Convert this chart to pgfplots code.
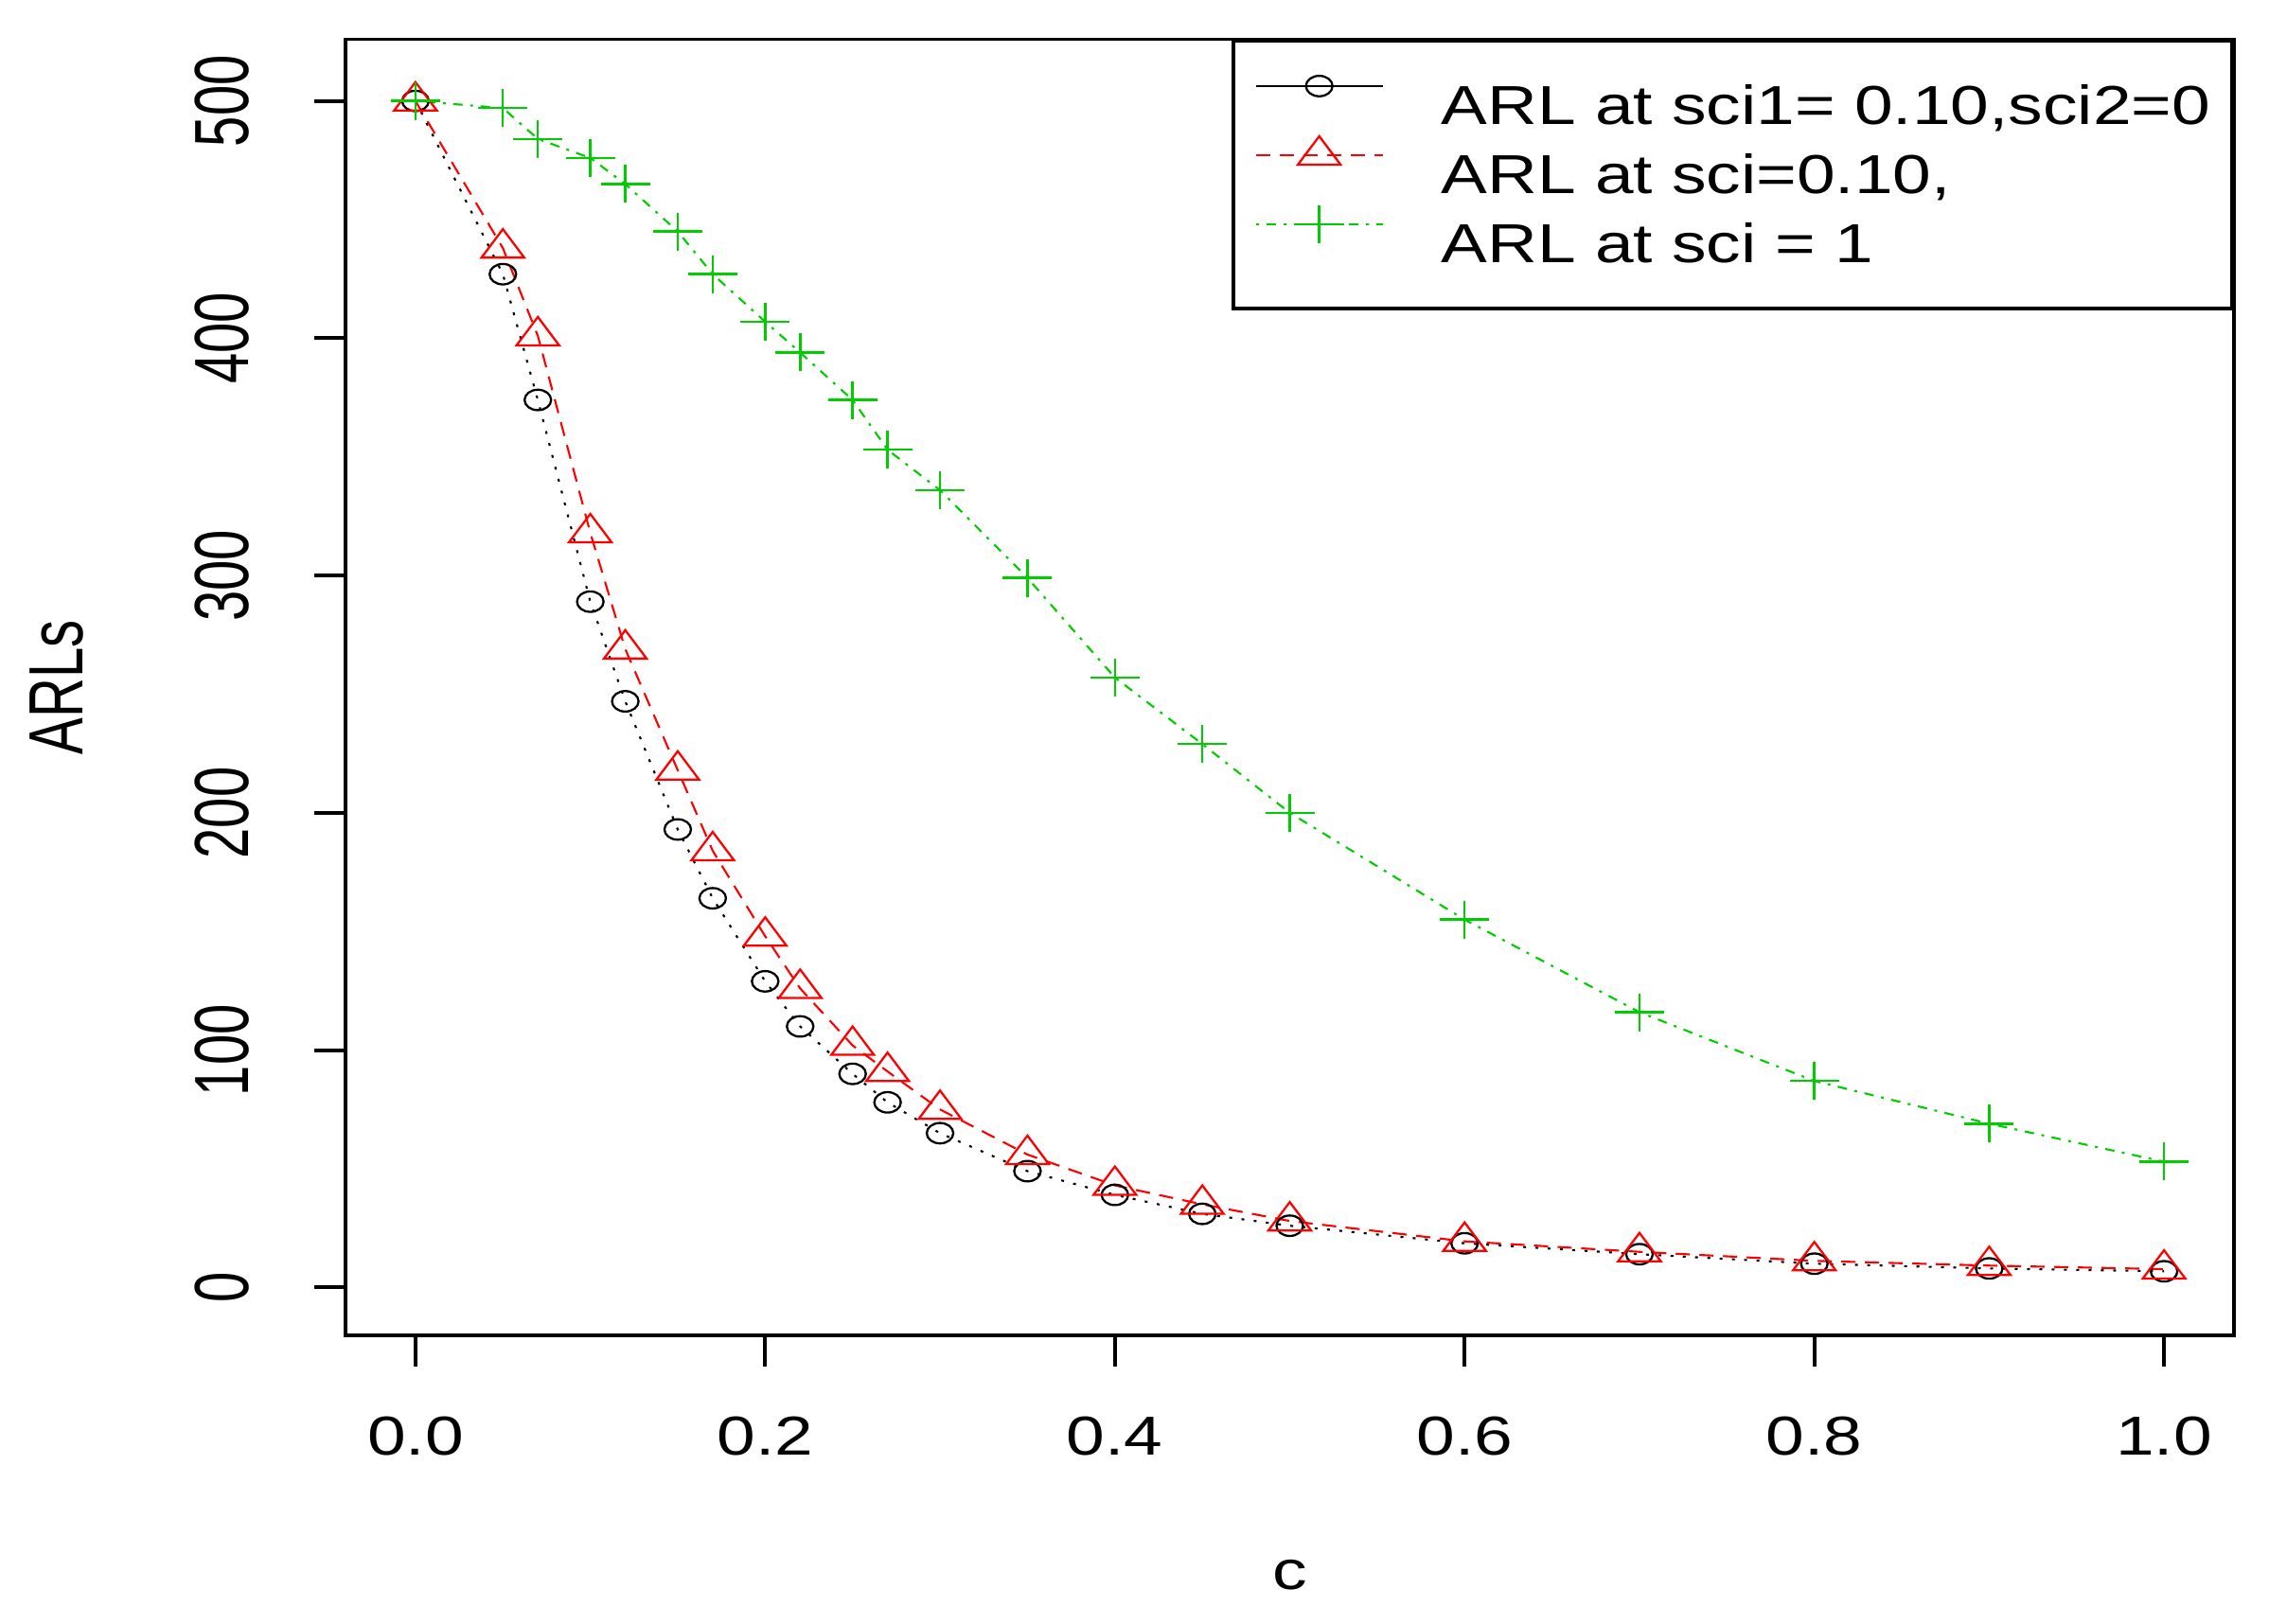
\documentclass[border=0pt]{standalone}
\usepackage{fontspec}
\setmainfont{Liberation Sans}[FakeStretch=1.26]
\newfontfamily\plainfont{Liberation Sans}
\usepackage{graphicx}
\usepackage{pgfplots}
\pgfplotsset{compat=1.18}
\definecolor{rgreen}{RGB}{0,205,0}
\newcommand\ys[1]{\scalebox{1}[1.4]{\plainfont #1}}
\newcommand\fs{\fontsize{16.5pt}{19pt}\selectfont}

\pgfplotstableread{
c     blk    red    grn
0.00  500    500    500
0.05  427    438    497
0.07  374    401    484
0.10  289    318    476
0.12  247    269    465
0.15  193    218    445
0.17  164    184    427
0.20  129    148    407
0.22  110    126    394
0.25  90     102    374
0.27  78     91     353
0.30  65     75     336
0.35  49     56     299
0.40  39     43     257
0.45  31     35     229
0.50  26     28     200
0.60  18.6   19.4   155
0.70  14     15     116
0.80  10     11.2   87
0.90  8      9.2    69
1.00  6.8    7.7    53
}\datatable

\begin{document}
\begin{tikzpicture}
\begin{axis}[
  scale only axis, width=19.95cm, height=13.695cm,
  xmin=-0.04, xmax=1.04, ymin=-20.2, ymax=526,
  axis line style={line width=1.1pt},
  tick style={line width=1.1pt, black},
  major tick length=0.33cm, tick align=outside, tick pos=left,
  xtick={0,0.2,0.4,0.6,0.8,1}, xticklabels={0.0,0.2,0.4,0.6,0.8,1.0},
  ytick={0,100,200,300,400,500},
  yticklabels={{\ys{0}},{\ys{100}},{\ys{200}},{\ys{300}},{\ys{400}},{\ys{500}}},
  tick label style={font=\fs},
  xticklabel style={anchor=base, yshift=-0.93cm},
  yticklabel style={xshift=-0.69cm, rotate=90, anchor=base},
  xlabel={c},
  xlabel style={at={(axis description cs:0.5,-0.1957)}, anchor=base, font=\fs},
  ylabel={\ys{ARLs}},
  ylabel style={at={(axis description cs:-0.1393,0.5)}, anchor=base, font=\fs},
  legend style={at={(1,1)}, anchor=north east, draw=black, line width=1.1pt, fill=white,
    inner xsep=0.23cm, inner ysep=0.36cm, row sep=0pt, column sep=0.61cm, font=\fs,
    nodes={inner sep=0pt, text height=0.52cm, text depth=0.125cm}},
  legend cell align=left,
  legend image code/.code={\draw[mark repeat=2,mark phase=2,#1] plot coordinates {(0cm,0.2075cm) (0.67cm,0.2075cm) (1.34cm,0.2075cm)};},
]
\addlegendimage{black, solid, line width=0.6pt, mark=o, mark size=0.108cm, mark options={solid, xscale=1.3, line width=0.65pt}}
\addlegendentry{ARL at sci1= 0.10,sci2=0}
\addplot[black, line width=0.6pt, dash pattern=on 0.03cm off 0.1cm, mark=o, mark size=0.108cm,
  mark options={solid, xscale=1.3, line width=0.65pt}, forget plot] table[x=c, y=blk] {\datatable};
\addplot[red, line width=0.6pt, dash pattern=on 0.15cm off 0.1cm, mark=triangle, mark size=0.2cm,
  mark options={solid, xscale=1.3, line width=0.65pt}] table[x=c, y=red] {\datatable};
\addlegendentry{ARL at sci=0.10,}
\addplot[rgreen, line width=0.6pt, dash pattern=on 0.03cm off 0.08cm on 0.1cm off 0.08cm, mark=+, mark size=0.2cm,
  mark options={solid, xscale=1.3, line width=0.7pt}] table[x=c, y=grn] {\datatable};
\addlegendentry{ARL at sci = 1}
\end{axis}
\pgfresetboundingbox
\path (current axis.south west) ++(-3.65cm,-3.04cm) rectangle ++(23.97cm,17.15cm);
\end{tikzpicture}
\end{document}
